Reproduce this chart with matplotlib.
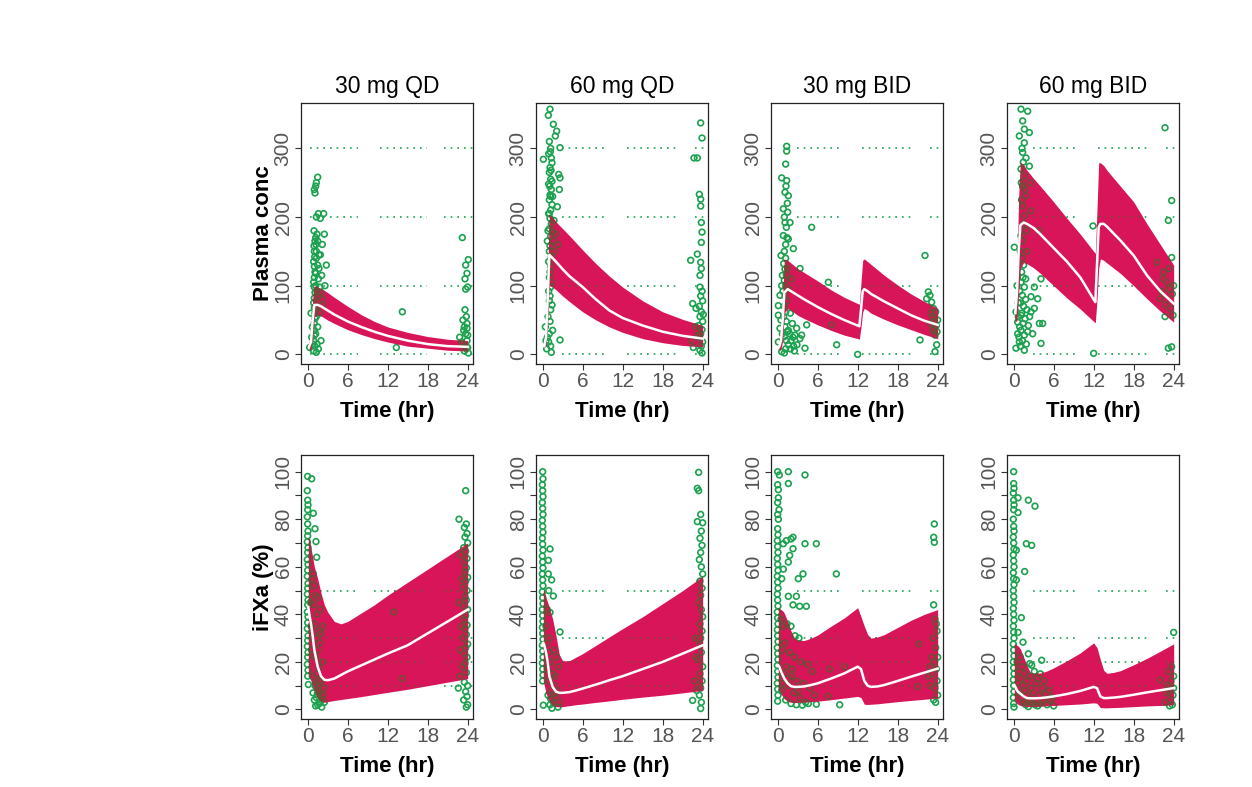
import numpy as np
import matplotlib
matplotlib.use("Agg")
import matplotlib.pyplot as plt

plt.rcParams["font.family"] = ["Liberation Sans", "DejaVu Sans"]

RED = "#D9155A"
GREEN = "#1CA24F"
DARK = "#6E4E34"

TITLES = ["30 mg QD", "60 mg QD", "30 mg BID", "60 mg BID"]

# ---- prediction bands, plasma concentration (top row) ----
T_QD = [0.25, 0.5, 0.75, 1, 1.5, 2, 3, 4, 6, 8, 10, 12, 15, 18, 21, 24]
PK_QD30_HI = [20, 30, 80, 100, 98, 96, 90, 83, 70, 58, 48, 40, 32, 26, 22, 20]
PK_QD30_MED = [12, 18, 50, 72, 72, 70, 64, 58, 48, 40, 33, 27, 20, 15, 12, 11]
PK_QD30_LO = [5, 8, 25, 55, 57, 56, 50, 45, 36, 29, 23, 18, 12, 9, 6, 5]
PK_QD60_HI = [20, 45, 120, 203, 200, 193, 183, 173, 152, 132, 114, 98, 78, 62, 51, 42]
PK_QD60_MED = [12, 25, 80, 145, 140, 135, 124, 114, 98, 80, 64, 53, 42, 33, 27, 23]
PK_QD60_LO = [10, 12, 45, 100, 98, 94, 85, 77, 62, 50, 40, 32, 23, 17, 13, 11]

T_BID = [0.25, 0.5, 0.75, 1, 1.5, 2, 3, 4, 6, 8, 10, 12, 12.25, 12.5, 12.75,
         13, 13.5, 14, 16, 18, 20, 22, 24]
PK_BID30_HI = [25, 35, 80, 139, 137, 133, 125, 119, 107, 94, 83, 74, 73, 105, 137,
               139, 135, 131, 115, 101, 88, 77, 67]
PK_BID30_MED = [12, 20, 50, 90, 95, 92, 86, 80, 69, 59, 50, 42, 41, 65, 92,
                95, 92, 88, 77, 67, 57, 49, 43]
PK_BID30_LO = [5, 8, 20, 60, 67, 64, 57, 52, 43, 35, 28, 23, 22, 40, 62,
               67, 64, 60, 51, 43, 36, 29, 23]
PK_BID60_HI = [75, 130, 230, 279, 276, 268, 256, 245, 222, 198, 175, 150, 147, 210, 279,
               279, 275, 268, 245, 222, 190, 160, 130]
PK_BID60_MED = [60, 90, 150, 188, 192, 190, 184, 175, 155, 135, 112, 80, 76, 130, 185,
                190, 190, 186, 166, 144, 115, 92, 74]
PK_BID60_LO = [47, 50, 90, 125, 134, 132, 126, 118, 100, 82, 66, 48, 46, 80, 125,
               139, 137, 133, 118, 100, 81, 63, 47]

# ---- prediction bands, iFXa (bottom row) ----
T_QD_FX = [0.1, 0.25, 0.5, 0.75, 1, 1.5, 2, 2.5, 3, 4, 5, 6, 8, 10, 12, 15, 18, 21, 24]
FX_QD30_HI = [72, 72, 68, 64, 60, 55, 49, 44, 41, 37, 36, 37, 40.5, 44, 48, 53.5, 59, 64.5, 70]
FX_QD30_MED = [43, 40, 36, 31, 25, 18, 14, 12.5, 12.3, 13, 14.5, 16, 18.5, 21, 23.5, 27, 32, 37, 42]
FX_QD30_LO = [15, 14, 12, 10, 8, 5, 3.5, 3, 3.3, 3.8, 4.2, 4.6, 5.4, 6.3, 7.2, 8.5, 10, 11.5, 13]
FX_QD60_HI = [50, 50, 47, 45, 43, 38, 31, 23, 20.5, 20.5, 22, 23.5, 27, 30.5, 34, 39, 44.5, 50, 56]
FX_QD60_MED = [28, 27, 24, 20, 14, 9.5, 7.5, 7, 7, 7.3, 8, 8.8, 10.5, 12.3, 14, 17, 20, 23.5, 27]
FX_QD60_LO = [12, 10, 7, 5, 3.5, 1.8, 1.2, 1.1, 1.2, 1.6, 2, 2.3, 3, 3.6, 4.3, 5.2, 6, 7, 8]

T_BID_FX = [0.1, 0.25, 0.5, 0.75, 1, 1.5, 2, 2.5, 3, 4, 5, 6, 8, 10, 12, 12.5, 13,
            13.5, 14, 15, 16, 18, 20, 22, 24]
FX_BID30_HI = [42.8, 42.5, 42, 41.5, 40.5, 37, 33, 30, 29, 29, 30, 31.3, 35, 38.5, 42.8,
               39, 35, 31.5, 30, 30.5, 31.5, 34.5, 37.5, 40, 42]
FX_BID30_MED = [18.5, 18, 16, 14.5, 13, 11, 9.8, 9.5, 9.5, 9.7, 10.3, 11, 13, 15.2, 18,
                17, 12, 10, 9.5, 9.7, 10.3, 12, 13.8, 15.5, 17.2]
FX_BID30_LO = [9, 8, 6.5, 5.5, 4.5, 3.5, 3, 2.9, 3, 3.1, 3.3, 3.5, 4.1, 4.8, 5.5,
               5, 2.2, 2.1, 2.2, 2.4, 2.7, 3.3, 3.8, 4.3, 4.8]
FX_BID60_HI = [27.6, 27.5, 27, 26.5, 25.5, 22, 18.5, 15.5, 15.2, 15.3, 16.2, 17.5, 20.5, 23.8, 28,
               26, 21, 16.5, 15.2, 15.6, 16.3, 18.8, 21.5, 24.5, 27.6]
FX_BID60_MED = [10.3, 9.5, 8, 7.2, 6.7, 5.5, 4.8, 4.7, 4.7, 4.8, 5.1, 5.5, 6.5, 7.8, 9.5,
                9, 5.5, 4.8, 4.8, 5, 5.3, 6.2, 7.2, 8.1, 9]
FX_BID60_LO = [4, 3.5, 2.5, 2, 1.7, 1.4, 1.3, 1.3, 1.3, 1.4, 1.6, 1.7, 2, 2.3, 2.8,
               2.6, 0.8, 0.7, 0.7, 0.8, 0.9, 1.2, 1.5, 1.7, 2]

# ---- observed data (time hr, value) ----
OBS_PK_QD30 = [
    (0.3, 10), (0.5, 60), (0.6, 25), (0.7, 40), (0.8, 15), (0.9, 5), (0.9, 20), (1.0, 28),
    (1.0, 35), (1.0, 45), (1.1, 52), (1.1, 60), (1.0, 68), (0.9, 75), (1.0, 82), (1.1, 90),
    (1.0, 98), (0.9, 105), (1.0, 112), (1.1, 120), (1.0, 128), (0.9, 135), (1.05, 142),
    (1.0, 150), (0.95, 158), (1.1, 165), (1.2, 118), (1.3, 140), (1.25, 160), (1.4, 175),
    (1.5, 130), (1.6, 110), (1.7, 125), (1.8, 98), (2.0, 90), (2.2, 80), (1.6, 85), (1.4, 70),
    (1.3, 55), (1.5, 40), (1.2, 30), (1.4, 15), (1.6, 8), (2.0, 20), (1.8, 60), (2.3, 72),
    (2.5, 175), (2.2, 160), (2.6, 100), (2.8, 130), (1.9, 145), (2.1, 115), (1.3, 200),
    (1.6, 205), (1.9, 198), (2.4, 205), (1.1, 235), (1.2, 245), (1.3, 250), (1.5, 258),
    (1.0, 240), (1.2, 100), (1.4, 92), (1.3, 150), (1.5, 165), (1.2, 170), (0.95, 180),
    (1.7, 145), (1.1, 12), (1.3, 3), (13.3, 10), (14.2, 62),
    (22.8, 25), (23.2, 15), (23.5, 5), (23.7, 30), (23.9, 45), (24.0, 10), (23.4, 35),
    (23.8, 55), (23.6, 65), (23.9, 20), (24.1, 2), (23.3, 50), (23.5, 40), (24.0, 28),
    (23.8, 8), (23.1, 18), (23.6, 12), (23.9, 38), (23.7, 95), (24.0, 98), (23.6, 110),
    (23.9, 118), (23.7, 130), (24.1, 138), (23.2, 170),
]
OBS_PK_QD60 = [
    (1.1, 357), (0.85, 348), (1.6, 335), (2.1, 325), (1.9, 318), (2.6, 301), (0.1, 284),
    (1.4, 279), (2.4, 262), (2.6, 257), (1.0, 310), (1.2, 300), (0.9, 292), (1.3, 286),
    (1.1, 272), (1.0, 265), (1.2, 255), (0.9, 248), (1.3, 240), (1.1, 232), (1.0, 225),
    (1.4, 218), (1.2, 210), (0.9, 205), (1.1, 198), (1.3, 190), (1.0, 183), (1.5, 178),
    (1.2, 172), (0.8, 180), (1.6, 165), (2.0, 175), (2.3, 160), (1.8, 150), (1.1, 158),
    (1.0, 150), (1.3, 142), (0.9, 135), (1.2, 128), (1.1, 120), (1.0, 112), (1.3, 105),
    (1.2, 98), (0.9, 92), (1.1, 85), (1.0, 78), (1.4, 72), (1.2, 65), (0.8, 55), (1.1, 48),
    (1.0, 30), (0.7, 25), (0.9, 18), (1.2, 12), (1.5, 35), (0.6, 8), (1.3, 3), (2.6, 21),
    (0.4, 40), (0.5, 20), (1.7, 195), (2.2, 215), (2.5, 240), (1.5, 230), (0.7, 165),
    (1.15, 295), (1.25, 268), (1.05, 245), (1.4, 252), (1.2, 230), (1.0, 205),
    (22.7, 286), (23.2, 286), (23.7, 337), (23.9, 315), (23.5, 233), (23.7, 226),
    (23.7, 216), (23.8, 192), (23.9, 178), (23.8, 163), (22.2, 137), (23.2, 146),
    (23.7, 134), (23.8, 125), (23.6, 115), (22.5, 74), (23.0, 67), (23.6, 98), (23.9, 92),
    (23.7, 85), (24.0, 78), (23.5, 70), (23.8, 62), (23.6, 55), (24.0, 48), (23.4, 42),
    (23.9, 36), (23.7, 30), (23.5, 24), (24.0, 18), (23.8, 12), (23.6, 6), (23.9, 2),
    (23.3, 28), (22.9, 40), (22.3, 20), (22.6, 10), (24.1, 58),
]
OBS_PK_BID30 = [
    (1.35, 303), (1.35, 296), (1.2, 277), (0.6, 257), (1.35, 253), (1.1, 236), (1.6, 231),
    (0.85, 212), (1.5, 207), (1.1, 192), (1.85, 192), (0.85, 173), (1.6, 168), (2.35, 154),
    (0.5, 144), (5.1, 185), (7.6, 105), (3.35, 125), (4.35, 43), (8.85, 14), (12.0, 0),
    (0.35, 86), (0.1, 71), (0.1, 57), (0.35, 38), (0.1, 18), (0.6, 4), (3.6, 28), (4.1, 9),
    (3.35, 23), (2.85, 38), (8.1, 43),
    (1.0, 150), (1.2, 140), (0.9, 132), (1.1, 124), (1.3, 116), (1.0, 108), (1.2, 100),
    (0.8, 92), (1.1, 85), (1.4, 78), (1.0, 70), (1.2, 62), (0.9, 55), (1.3, 48), (1.1, 40),
    (1.5, 33), (1.0, 26), (1.3, 20), (1.6, 14), (1.2, 8), (1.0, 2), (1.8, 30), (2.0, 20),
    (2.2, 45), (1.9, 60), (2.4, 12), (2.6, 28), (1.7, 95), (2.1, 110), (1.5, 125),
    (0.7, 115), (0.6, 100), (2.5, 5), (2.9, 14), (1.4, 170), (1.2, 160), (0.5, 50), (0.7, 30),
    (1.3, 185), (1.0, 200), (1.45, 220), (1.25, 245), (1.6, 35), (2.3, 25), (1.9, 8),
    (22.1, 144), (22.6, 91), (22.85, 86), (22.35, 81), (23.1, 76), (23.35, 67), (21.35, 21),
    (23.6, 28), (23.85, 14), (23.6, 4), (23.2, 55), (23.5, 48), (23.8, 42), (23.4, 38),
    (23.9, 33), (23.0, 60), (23.7, 62), (24.0, 50), (22.9, 45), (23.3, 35),
]
OBS_PK_BID60 = [
    (1.1, 357), (2.1, 354), (1.35, 340), (1.6, 328), (2.35, 323), (0.85, 318), (1.6, 308),
    (1.35, 294), (1.85, 286), (1.1, 270), (2.35, 274), (1.6, 260), (1.35, 245), (1.85, 231),
    (1.35, 216), (2.6, 209), (1.6, 202), (0.1, 156), (1.1, 173), (3.8, 180), (4.1, 110),
    (3.1, 98), (2.6, 84), (3.6, 81), (3.1, 67), (3.85, 45), (4.35, 45), (4.1, 16),
    (2.85, 30), (2.1, 33), (0.85, 18), (0.35, 9), (1.6, 6), (0.6, 47), (0.35, 62), (1.1, 57),
    (1.0, 150), (1.3, 140), (1.5, 130), (1.2, 120), (1.4, 112), (1.1, 105), (1.6, 98),
    (0.9, 92), (1.3, 86), (1.8, 80), (1.0, 75), (1.5, 70), (2.0, 65), (1.2, 60), (0.7, 55),
    (1.7, 52), (1.4, 45), (0.9, 40), (2.2, 42), (1.1, 35), (1.6, 28), (0.8, 25), (1.3, 20),
    (1.9, 15), (1.0, 12), (0.6, 30), (2.4, 55), (2.6, 62), (1.5, 190), (1.9, 180),
    (2.5, 250), (1.2, 225), (0.7, 75), (0.5, 100), (1.25, 300), (1.45, 280), (1.15, 250),
    (1.7, 240), (1.3, 165), (2.0, 150), (1.8, 110), (11.9, 187), (12.0, 1.5),
    (22.7, 330), (23.7, 224), (23.2, 195), (23.7, 141), (21.5, 134), (22.5, 120),
    (23.0, 105), (22.0, 81), (23.5, 67), (23.9, 57), (22.7, 55), (23.2, 9), (23.7, 11),
    (22.4, 110), (23.4, 95), (23.8, 88), (22.8, 72), (23.3, 125), (24.0, 100), (22.2, 92),
]
OBS_FX_QD30 = [
    (0.0, 14), (0.05, 16.5), (-0.05, 19), (0.0, 22), (0.05, 24), (-0.05, 26.5), (0.0, 29),
    (0.05, 31), (-0.05, 34), (0.0, 36.5), (0.05, 39), (-0.05, 41), (0.0, 44), (0.05, 46),
    (-0.05, 48.5), (0.0, 51), (0.05, 53), (-0.05, 56), (0.0, 58.5), (0.05, 61), (-0.05, 63),
    (0.0, 66), (0.05, 68), (-0.05, 70.5), (0.0, 73), (0.05, 75), (0.0, 78), (-0.05, 81),
    (0.0, 84), (0.05, 86), (0.0, 88), (-0.05, 92), (0.0, 98), (0.1, 10.5), (0.6, 97),
    (0.85, 82.5), (1.1, 76), (1.25, 70.6), (1.35, 64), (0.85, 57), (1.0, 52), (1.2, 48),
    (0.9, 44), (1.4, 40), (1.1, 36), (1.6, 33), (1.3, 30), (2.0, 32), (1.8, 28), (1.5, 25),
    (1.2, 22), (2.2, 20), (1.7, 18), (1.4, 15), (2.0, 12), (1.1, 10), (1.6, 8), (2.3, 6),
    (1.3, 5), (1.9, 3), (1.5, 2), (2.1, 1), (1.0, 4), (0.8, 7), (2.4, 9), (1.7, 12),
    (0.7, 14), (2.5, 3), (1.2, 1.5), (0.6, 25), (0.5, 35), (0.4, 45), (0.7, 55), (1.9, 42),
    (2.3, 35), (1.55, 47), (1.45, 6.5), (1.85, 7.5), (2.05, 4.5), (1.25, 11), (1.75, 2.5),
    (12.9, 41), (14.2, 13),
    (23.8, 78), (23.5, 76.5), (23.9, 74), (23.6, 72.5), (24.0, 70), (23.4, 68), (23.7, 66.5),
    (23.9, 63.5), (23.5, 62), (23.8, 59.5), (23.6, 58), (24.0, 55.5), (23.7, 54), (23.3, 51.5),
    (23.9, 50), (23.6, 47.5), (23.8, 46), (23.4, 43.5), (24.0, 42), (23.7, 39.5), (23.5, 38),
    (23.9, 35.5), (23.6, 34), (23.8, 31.5), (23.3, 30), (24.0, 27.5), (23.7, 26), (23.5, 23.5),
    (23.9, 22), (23.6, 19.5), (23.2, 18), (23.8, 15.5), (22.8, 14), (23.5, 11.5), (24.0, 10),
    (22.6, 9), (23.7, 7.5), (23.9, 5.5), (23.4, 4), (24.0, 2), (23.8, 1), (23.7, 92),
    (22.7, 80), (22.9, 65), (23.1, 55), (22.7, 45), (23.0, 35), (22.9, 25),
]
OBS_FX_QD60 = [
    (0.0, 100), (0.05, 97), (-0.05, 94.5), (0.0, 92), (0.05, 89.5), (-0.05, 87), (0.0, 84.5),
    (0.05, 82), (-0.05, 79.5), (0.0, 77), (0.05, 74.5), (-0.05, 72), (0.0, 69.5), (0.05, 67),
    (-0.05, 64.5), (0.0, 62), (0.05, 59.5), (-0.05, 57), (0.0, 54.5), (0.05, 52), (-0.05, 49.5),
    (0.0, 47), (0.05, 44.5), (-0.05, 42), (0.0, 39.5), (0.05, 37), (-0.05, 34.5), (0.0, 32),
    (0.05, 29.5), (-0.05, 27), (0.0, 24.5), (0.05, 22), (-0.05, 19.5), (0.0, 17), (0.05, 14.5),
    (0.0, 12), (0.1, 1.8),
    (1.1, 67.5), (0.85, 62.7), (1.35, 54.5), (0.85, 57), (1.6, 47.7), (2.6, 32.6), (1.1, 40.8),
    (0.6, 28), (0.9, 24), (1.2, 20), (0.7, 17), (1.5, 15), (1.0, 12), (1.8, 10), (1.3, 8),
    (0.8, 6), (2.0, 5), (1.6, 3), (1.1, 2), (2.3, 1), (1.4, 0.5), (2.2, 8), (1.9, 14),
    (2.4, 18), (0.5, 35), (0.7, 42), (1.0, 30), (1.7, 25), (2.1, 22), (0.9, 50), (2.5, 3),
    (1.2, 4.5), (1.7, 6.5),
    (23.4, 99.7), (23.2, 93), (23.4, 92), (23.2, 79), (23.7, 82), (24.0, 78.5), (23.8, 75),
    (23.6, 72), (23.9, 69), (23.7, 66), (23.5, 63), (23.8, 60), (24.0, 57), (23.6, 54),
    (23.9, 51), (23.7, 48), (23.4, 45), (23.8, 42), (24.0, 39), (23.6, 36), (23.9, 33),
    (23.7, 30), (23.5, 27), (23.8, 24), (23.3, 21), (24.0, 18), (23.6, 15), (23.9, 12),
    (23.7, 9), (23.5, 6), (23.8, 3), (22.5, 3.8), (23.7, 0.4), (22.8, 12), (23.0, 22),
    (22.9, 30), (23.1, 8),
]
OBS_FX_BID30 = [
    (0.0, 100), (0.25, 98.6), (0.0, 94.5), (0.1, 92.4), (0.1, 89), (0.0, 87), (0.2, 84),
    (0.0, 82), (0.1, 80),
    (0.0, 76), (0.05, 73.5), (-0.05, 71), (0.0, 68.5), (0.05, 66), (-0.05, 63.5), (0.0, 61),
    (0.05, 58.5), (-0.05, 56), (0.0, 53.5), (0.05, 51), (-0.05, 48.5), (0.0, 46), (0.05, 43.5),
    (-0.05, 41), (0.0, 38.5), (0.05, 36), (-0.05, 33.5), (0.0, 31), (0.05, 28.5), (-0.05, 26),
    (0.0, 23.5), (0.05, 21), (-0.05, 18.5), (0.0, 16), (0.05, 13.5), (-0.05, 11), (0.0, 8.5),
    (0.05, 6), (0.0, 3.5),
    (1.6, 100), (1.6, 95), (4.1, 98.6), (1.3, 71), (2.0, 71.7), (2.3, 72.4), (1.8, 64.8),
    (0.85, 69.7), (2.3, 67.6), (1.6, 62), (0.85, 59), (0.6, 55), (1.6, 47.6), (2.8, 47.6),
    (2.3, 44), (3.1, 55), (3.8, 57), (5.8, 69.7), (4.1, 69.7), (3.3, 43.4), (4.3, 43.4),
    (8.8, 57), (0.5, 38), (0.9, 35), (1.4, 36), (2.0, 35), (2.6, 31), (3.2, 30), (1.1, 28),
    (0.7, 25), (1.8, 24), (2.5, 22), (3.5, 20), (4.5, 19), (5.2, 16), (1.3, 18), (0.9, 15),
    (2.1, 14), (2.9, 12), (3.9, 11), (4.8, 9), (5.5, 6), (1.6, 10), (0.6, 8), (2.4, 7),
    (3.3, 5), (4.2, 3), (1.2, 4), (2.0, 2.5), (2.8, 2), (3.7, 1.8), (4.6, 2.5), (5.8, 2.2),
    (1.5, 13), (0.8, 11), (2.2, 17), (3.0, 8), (7.8, 17), (10.0, 18), (7.6, 5.5), (9.3, 2),
    (21.2, 27.6), (21.0, 9.7),
    (23.5, 78), (23.4, 72.4), (23.5, 70.3), (23.4, 44), (23.6, 38), (23.8, 36), (23.9, 33),
    (23.3, 30), (23.7, 26), (24.0, 22), (23.5, 20), (23.8, 17), (23.2, 15), (23.9, 12),
    (23.6, 9), (24.0, 6), (23.4, 4), (22.8, 18), (22.6, 14), (22.9, 10), (23.1, 22), (23.7, 3),
]
OBS_FX_BID60 = [
    (0.0, 100), (0.0, 95), (0.05, 93), (-0.05, 91), (0.0, 88), (0.05, 86), (0.0, 84),
    (-0.05, 80), (0.0, 77), (0.05, 75), (-0.05, 72.5), (0.0, 70), (0.05, 67.5), (-0.05, 65),
    (0.0, 62.5), (0.05, 60), (-0.05, 57.5), (0.0, 55), (0.05, 52.5), (-0.05, 50), (0.0, 47.5),
    (0.05, 45), (-0.05, 42.5), (0.0, 40), (0.05, 37.5), (-0.05, 35), (0.0, 32.5), (0.05, 30),
    (-0.05, 27.5), (0.0, 25), (0.05, 22.5), (-0.05, 20), (0.0, 17.5), (0.05, 15),
    (-0.05, 12.5), (0.0, 10), (0.05, 7.5), (-0.05, 5), (0.0, 2.5), (0.05, 1),
    (0.65, 89), (0.65, 82.8), (2.2, 88), (3.2, 85.5), (0.4, 67), (0.4, 54.5), (1.65, 58),
    (1.9, 69.7), (2.7, 69), (1.15, 38.6), (0.65, 32.4), (1.4, 28.3), (2.2, 23.4), (2.4, 19.3),
    (2.7, 18.6), (4.2, 20.7),
    (0.5, 20), (0.8, 16), (1.1, 13), (1.4, 10), (1.7, 8), (2.0, 6), (2.4, 4), (2.8, 3),
    (3.2, 2), (3.6, 1.5), (4.0, 2.5), (4.5, 3.5), (5.0, 2), (5.5, 4), (6.0, 1.5), (0.6, 11),
    (0.9, 7), (1.2, 5), (1.5, 3), (1.8, 2), (2.2, 1.2), (2.6, 9), (3.0, 7), (3.4, 11),
    (3.8, 6), (4.3, 9), (4.8, 6.5), (5.3, 8), (5.8, 5), (1.0, 22), (1.3, 18), (1.6, 15),
    (2.0, 12), (2.5, 14), (3.1, 16), (3.6, 13), (4.0, 15), (4.6, 12),
    (24.0, 32.4), (22.0, 12.4), (23.0, 10), (23.3, 8), (23.6, 12), (23.9, 6), (23.5, 4),
    (23.8, 2), (24.0, 14), (23.2, 16), (22.7, 3), (23.4, 1.5), (23.7, 18), (22.9, 7), (24.0, 9),
]

PK_REFS = [0, 100, 200, 300]
FX_REFS = [10, 20, 30, 50]

# where the dotted reference lines are drawn (x ranges, hr)
SEG_FIRST_TOP = [(0.35, 7.6), (10.9, 17.9), (20.5, 25.0)]
SEG_FIRST_BOT = [(1.9, 7.6), (9.9, 17.9), (20.5, 25.0)]
SEG_OTHER = [(2.9, 9.7), (12.6, 20.0), (22.8, 25.0)]

TOP = [
    (T_QD, PK_QD30_LO, PK_QD30_MED, PK_QD30_HI, OBS_PK_QD30),
    (T_QD, PK_QD60_LO, PK_QD60_MED, PK_QD60_HI, OBS_PK_QD60),
    (T_BID, PK_BID30_LO, PK_BID30_MED, PK_BID30_HI, OBS_PK_BID30),
    (T_BID, PK_BID60_LO, PK_BID60_MED, PK_BID60_HI, OBS_PK_BID60),
]
BOTTOM = [
    (T_QD_FX, FX_QD30_LO, FX_QD30_MED, FX_QD30_HI, OBS_FX_QD30),
    (T_QD_FX, FX_QD60_LO, FX_QD60_MED, FX_QD60_HI, OBS_FX_QD60),
    (T_BID_FX, FX_BID30_LO, FX_BID30_MED, FX_BID30_HI, OBS_FX_BID30),
    (T_BID_FX, FX_BID60_LO, FX_BID60_MED, FX_BID60_HI, OBS_FX_BID60),
]


def draw_panel(ax, band_t, lo, med, hi, obs, refs, segs):
    t = np.array([p[0] for p in obs])
    y = np.array([p[1] for p in obs])

    for x0, x1 in segs:
        ax.hlines(refs, x0, x1, colors=GREEN, linestyles=(0, (1, 3)), linewidth=1.2, zorder=1)
    ax.scatter(t, y, s=17, facecolors="none", edgecolors=GREEN, linewidths=1.2, zorder=2)

    band = ax.fill_between(band_t, lo, hi, color=RED, lw=0, zorder=3)
    clip = band.get_paths()[0]

    # what lies under the band shows through darker
    for x0, x1 in segs:
        lc = ax.hlines(refs, x0, x1, colors=DARK, linestyles=(0, (1, 3)), linewidth=1.2, zorder=4)
        lc.set_clip_path(clip, ax.transData)
    sc = ax.scatter(t, y, s=17, facecolors="none", edgecolors=DARK, linewidths=1.1, zorder=4)
    sc.set_clip_path(clip, ax.transData)

    ax.plot(band_t, med, color="white", lw=1.8, zorder=5)

    ax.set_xlim(-1.0, 24.8)
    ax.set_xticks([0, 6, 12, 18, 24])
    for s in ax.spines.values():
        s.set_color("#222222")
        s.set_linewidth(0.9)
    ax.tick_params(direction="out", length=4, width=0.8, color="#333333",
                   labelsize=15, labelcolor="#555555", pad=2)
    ax.tick_params(axis="y", which="both", labelrotation=90)
    ax.set_xlabel("Time (hr)", fontsize=16, fontweight="bold", labelpad=7)


fig = plt.figure(figsize=(12.52, 7.87), dpi=100)
lefts = [301, 536, 771, 1007]
W = 1252
H = 787

for i in range(4):
    ax = fig.add_axes([lefts[i] / W, 1 - 364 / H, 172 / W, 261 / H])
    band_t, lo, med, hi, obs = TOP[i]
    draw_panel(ax, band_t, lo, med, hi, obs, PK_REFS, SEG_FIRST_TOP if i == 0 else SEG_OTHER)
    ax.set_ylim(-14, 366)
    ax.set_yticks([0, 100, 200, 300])
    for lbl in ax.get_yticklabels():
        lbl.set_va("center")
    ax.set_title(TITLES[i], fontsize=16.5, pad=7)
    if i == 0:
        ax.set_ylabel("Plasma conc", fontsize=16, fontweight="bold", labelpad=0)

for i in range(4):
    ax = fig.add_axes([lefts[i] / W, 1 - 719 / H, 172 / W, 264 / H])
    band_t, lo, med, hi, obs = BOTTOM[i]
    draw_panel(ax, band_t, lo, med, hi, obs, FX_REFS, SEG_FIRST_BOT if i == 0 else SEG_OTHER)
    ax.set_ylim(-4, 107)
    ax.set_yticks([0, 20, 40, 60, 80, 100])
    ax.set_yticks([10, 30, 50, 70, 90], minor=True)
    ax.tick_params(axis="y", which="minor", length=4, width=0.8, color="#333333")
    for lbl in ax.get_yticklabels():
        lbl.set_va("center")
    if i == 0:
        ax.set_ylabel("iFXa (%)", fontsize=16, fontweight="bold", labelpad=0)

fig.savefig("out.png", dpi=100, facecolor="white")
